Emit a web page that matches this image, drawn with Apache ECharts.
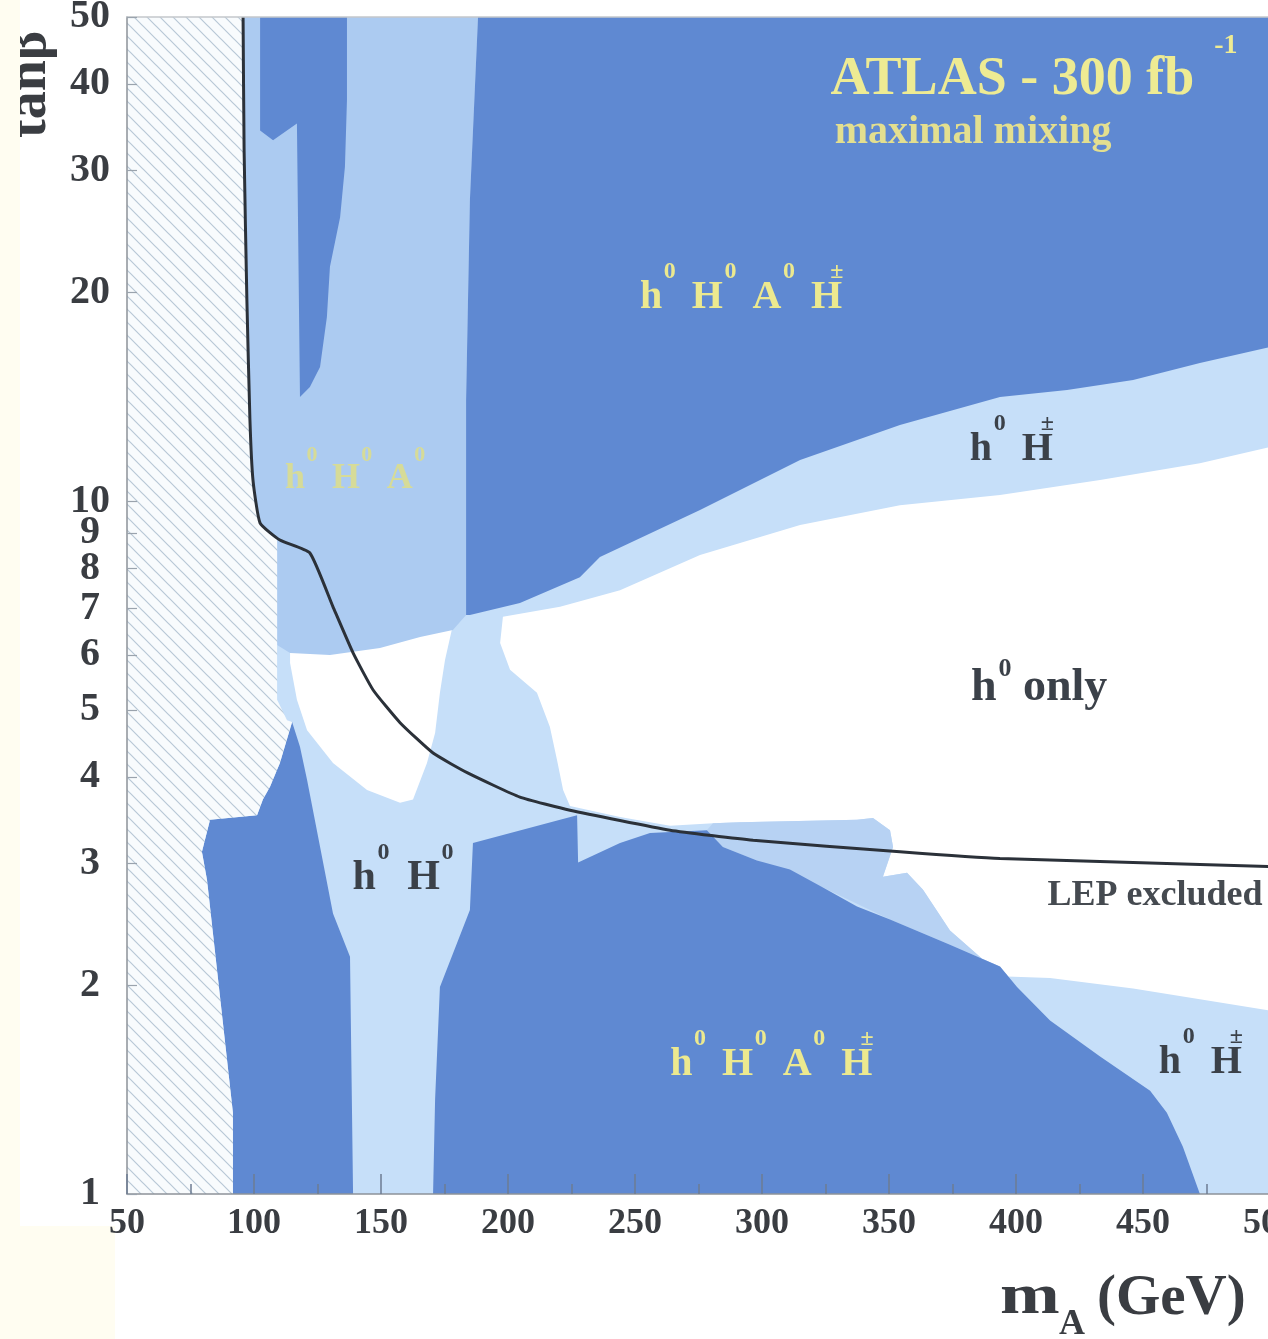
<!DOCTYPE html>
<html>
<head>
<meta charset="utf-8">
<title>ATLAS MSSM Higgs coverage, maximal mixing</title>
<script src="https://cdn.jsdelivr.net/npm/echarts@6/dist/echarts.min.js"></script>
<style>
  html, body { margin: 0; padding: 0; background: #ffffff; }
  #chart { width: 1268px; height: 1339px; }
</style>
</head>
<body>
<div id="chart"></div>
<script>
// ---- axis ticks ----
const xTickValues = [50, 100, 150, 200, 250, 300, 350, 400, 450, 500];
const yTickValues = [1, 2, 3, 4, 5, 6, 7, 8, 9, 10, 20, 30, 40, 50];

// ---- region outlines, points are [m_A (GeV), tan(beta)] ----
const fullPlane = [[50, 1], [500, 1], [500, 50], [50, 50]];

// LEP exclusion boundary
const lepBoundary = [[95.7, 50], [96.1, 32.1], [97.2, 19.5], [98.4, 13.1], [99.6, 10.73], [102.4, 9.30],
  [110.2, 8.79], [122.0, 8.42], [131.1, 7.04], [139.0, 6.04], [146.9, 5.34], [157.5, 4.79], [170.5, 4.33],
  [184.3, 4.05], [204.7, 3.74], [224.4, 3.58], [263.8, 3.35], [296.5, 3.24], [354.3, 3.12], [393.7, 3.05],
  [446.1, 3.01], [500, 2.97]];

// only h0 observable (large area right of centre)
const hOnlyMain = [[198.0, 6.81], [220.5, 7.04], [244.1, 7.44], [275.6, 8.36], [315.0, 9.24], [354.3, 9.87],
  [393.7, 10.21], [433.1, 10.73], [472.4, 11.35], [500, 11.97], [500, 1.84], [472.4, 1.91], [446.1, 1.98],
  [413.4, 2.05], [396.5, 2.06], [387.0, 2.18], [374.0, 2.40], [363.4, 2.75], [357.1, 2.91], [347.6, 2.87],
  [351.6, 3.17], [350.4, 3.35], [343.7, 3.49], [337.4, 3.47], [291.3, 3.44], [280.7, 3.43], [263.8, 3.40],
  [244.1, 3.50], [224.4, 3.63], [221.7, 3.83], [219.3, 4.23], [216.5, 4.72], [211.4, 5.29], [200.8, 5.71],
  [196.9, 6.24]];

// only h0 observable (pocket left of centre)
const hOnlyPocket = [[114.2, 6.20], [129.9, 6.18], [149.6, 6.31], [165.4, 6.52], [178.3, 6.63], [175.2, 5.90],
  [173.2, 5.29], [171.3, 4.63], [168.1, 4.19], [162.6, 3.71], [157.5, 3.67], [144.5, 3.83], [131.1, 4.19],
  [120.9, 4.67], [116.9, 5.17], [114.2, 5.84]];

// h0 H0 A0 region (upper left)
const hHA = [[95.7, 50], [188.2, 50], [185.0, 27.2], [183.5, 14.0], [183.5, 6.85], [178.3, 6.52], [165.4, 6.37],
  [149.6, 6.14], [129.9, 6.00], [114.2, 6.04], [109.1, 6.20], [109.1, 8.85], [102.4, 9.30], [99.6, 10.73],
  [98.4, 13.1], [97.2, 19.5], [96.1, 32.1]];

// strip along the lower four-boson region
const lowStrip = [[278.3, 3.35], [280.7, 3.43], [291.3, 3.44], [337.4, 3.47], [343.7, 3.49], [350.4, 3.35],
  [351.6, 3.17], [347.6, 2.87], [357.1, 2.91], [363.4, 2.75], [374.0, 2.40], [387.0, 2.18], [396.5, 2.06],
  [400.4, 1.99], [393.7, 2.13], [374.0, 2.29], [350.4, 2.49], [324.0, 2.77], [298.0, 3.03], [284.6, 3.17]];

// all four Higgs bosons observable
const allUpper = [[188.2, 50], [500, 50], [500, 16.7], [472.4, 15.83], [446.1, 14.96], [420.1, 14.47],
  [393.7, 14.14], [354.3, 12.88], [315.0, 11.47], [275.6, 9.71], [236.2, 8.31], [228.3, 7.77], [204.7, 7.13],
  [185.0, 6.85], [183.5, 6.85], [183.5, 14.0], [185.0, 27.2]];
const allSpike = [[102.4, 50], [136.6, 50], [136.6, 37.95], [135.8, 30.4], [133.9, 25.7], [129.9, 21.8],
  [128.7, 18.45], [126.0, 15.62], [122.0, 14.62], [118.1, 14.14], [116.9, 35.1], [107.5, 33.2], [102.4, 34.3]];
const allLowLeft = [[91.7, 1], [91.7, 1.31], [81.5, 2.84], [79.5, 3.12], [82.7, 3.47], [101.2, 3.52],
  [103.5, 3.71], [106.3, 3.87], [110.2, 4.19], [115.0, 4.80], [118.1, 4.42], [120.9, 3.96], [131.1, 2.54],
  [137.8, 2.20], [139.0, 1]];
const allLower = [[170.5, 1], [171.3, 1.37], [173.2, 1.99], [185.0, 2.57], [186.2, 3.21], [220.5, 3.47],
  [227.2, 3.52], [227.6, 3.01], [244.1, 3.21], [255.9, 3.32], [278.3, 3.35], [284.6, 3.17], [298.0, 3.03],
  [311.0, 2.94], [324.0, 2.77], [337.4, 2.60], [350.4, 2.49], [374.0, 2.29], [393.7, 2.13], [400.4, 1.99],
  [413.4, 1.78], [433.1, 1.58], [452.8, 1.41], [459.4, 1.31], [465.7, 1.17], [472.4, 1]];

// theoretically inaccessible area (hatched)
const excluded = [[50, 50], [95.7, 50], [96.1, 32.1], [97.2, 19.5], [98.4, 13.1], [99.6, 10.73], [102.4, 9.30],
  [109.1, 8.85], [109.1, 5.17], [113.0, 4.83], [115.0, 4.80], [110.2, 4.19], [106.3, 3.87], [103.5, 3.71],
  [101.2, 3.52], [82.7, 3.47], [79.5, 3.12], [81.5, 2.84], [91.7, 1.31], [91.7, 1], [50, 1]];

// ---- in-plot annotations: [centre m_A, baseline tan(beta)]; "^" starts a superscript ----
const annotations = [
  { at: [407.1, 38.32], text: 'ATLAS - 300 fb^-1', kind: 'title' },
  { at: [383.1, 32.67], text: 'maximal mixing', kind: 'mixing' },
  { at: [292.0, 18.88], text: 'h^0 H^0 A^0 H^±', kind: 'yellow' },
  { at: [139.8, 10.38], text: 'h^0 H^0 A^0', kind: 'faint' },
  { at: [398.4, 11.39], text: 'h^0 H^±', kind: 'dark' },
  { at: [409.1, 5.113], text: 'h^0 only', kind: 'only' },
  { at: [158.7, 2.729], text: 'h^0 H^0', kind: 'darkBig' },
  { at: [454.7, 2.596], text: 'LEP excluded', kind: 'lep' },
  { at: [303.9, 1.475], text: 'h^0 H^0 A^0 H^±', kind: 'yellow' },
  { at: [472.8, 1.485], text: 'h^0 H^±', kind: 'dark' }
];

const FONT = '"Liberation Serif", "DejaVu Serif", serif';
const COLORS = {
  all: '#5f89d2',
  hha: '#accbf1',
  strip: '#b7d2f3',
  light: '#c6dff9',
  white: '#ffffff',
  lep: '#2b3139',
  yellow: '#ece98f',
  text: '#3b4149',
  axis: '#8d9299'
};

// size: main font, sup: superscript font, raise: superscript baseline lift (x size),
// gap: space before superscript (x size), word: word spacing (x size)
const labelKinds = {
  title:   { size: 54, sup: 28, raise: 0.78, gap: 0.37, word: 0.25, color: '#eeeb93' },
  mixing:  { size: 40, sup: 20, raise: 0.7,  gap: 0.05, word: 0.25, color: '#e3df8f' },
  yellow:  { size: 40, sup: 24, raise: 0.76, gap: 0.04, word: 0.40, color: COLORS.yellow },
  faint:   { size: 36, sup: 22, raise: 0.76, gap: 0.04, word: 0.40, color: '#d6db98' },
  dark:    { size: 40, sup: 24, raise: 0.76, gap: 0.04, word: 0.40, color: COLORS.text },
  only:    { size: 46, sup: 26, raise: 0.55, gap: 0.04, word: 0.25, color: COLORS.text },
  darkBig: { size: 42, sup: 24, raise: 0.76, gap: 0.04, word: 0.42, color: COLORS.text },
  lep:     { size: 36, sup: 20, raise: 0.7,  gap: 0.05, word: 0.25, color: '#454a50' }
};

const measureCtx = document.createElement('canvas').getContext('2d');
function textWidth(str, size) {
  measureCtx.font = 'bold ' + size + 'px ' + FONT;
  return measureCtx.measureText(str).width;
}

function renderAnnotation(params, api) {
  const a = annotations[params.dataIndex];
  const k = labelKinds[a.kind];
  const p = api.coord([api.value(0), api.value(1)]);
  const pieces = [];
  let x = 0;
  a.text.split(' ').forEach(function (word, i) {
    if (i > 0) x += k.word * k.size;
    const parts = word.split('^');
    if (parts[0]) {
      pieces.push({ text: parts[0], x: x, sup: false });
      x += textWidth(parts[0], k.size);
    }
    if (parts[1]) {
      const overlap = parts[1] === '±' ? -0.3 * k.size : k.gap * k.size;
      pieces.push({ text: parts[1], x: x + overlap, sup: true });
      x = Math.max(x, x + overlap + textWidth(parts[1], k.sup));
    }
  });
  const left = p[0] - x / 2;
  return {
    type: 'group',
    children: pieces.map(function (pc) {
      const size = pc.sup ? k.sup : k.size;
      const baseline = pc.sup ? p[1] - k.raise * k.size : p[1];
      return {
        type: 'text',
        x: left + pc.x,
        y: baseline - 0.32 * size,
        style: { text: pc.text, fontFamily: FONT, fontWeight: 'bold', fontSize: size,
                 fill: k.color, align: 'left', verticalAlign: 'middle' }
      };
    })
  };
}

function makeHatch() {
  const s = 13;
  const c = document.createElement('canvas');
  c.width = s; c.height = s;
  const g = c.getContext('2d');
  g.fillStyle = '#f8fbfd';
  g.fillRect(0, 0, s, s);
  g.strokeStyle = '#b8c8d6';
  g.lineWidth = 1.2;
  g.beginPath();
  for (const k of [-1, 0, 1]) {
    g.moveTo(-1, -1 + k * s);
    g.lineTo(s + 1, s + 1 + k * s);
  }
  g.stroke();
  return c;
}

function region(name, points, fill, z) {
  return {
    type: 'custom',
    name: name,
    silent: true,
    z: z,
    clip: true,
    data: [[100, 10]],
    renderItem: function (params, api) {
      return {
        type: 'polygon',
        shape: { points: points.map(function (p) { return api.coord(p); }) },
        style: { fill: fill, stroke: null }
      };
    }
  };
}

const chart = echarts.init(document.getElementById('chart'), null, { renderer: 'canvas' });
const hatch = makeHatch();

const tickLine = { color: '#6d7c92', width: 1.5 };
const xLabelStyle = { fontFamily: FONT, fontWeight: 'bold', fontSize: 36, color: '#3a3d42' };
const yLabelStyle = { fontFamily: FONT, fontWeight: 'bold', fontSize: 40, color: '#3a3d42' };
const titleStyle = { fontFamily: FONT, fontWeight: 'bold', fill: '#3a3d42', align: 'left', verticalAlign: 'middle' };

chart.setOption({
  animation: false,
  backgroundColor: '#ffffff',
  grid: { left: 127, top: 17, width: 1143, height: 1177, containLabel: false, outerBoundsMode: 'none' },
  xAxis: [{
    type: 'value', min: 50, max: 500, interval: 50, z: 10,
    axisLine: { show: true, onZero: false, lineStyle: { color: COLORS.axis, width: 1.5 } },
    axisTick: { show: true, inside: true, length: 20, lineStyle: tickLine },
    minorTick: { show: true, splitNumber: 2, length: 10, lineStyle: tickLine },
    splitLine: { show: false },
    axisLabel: Object.assign({ margin: 12, customValues: xTickValues }, xLabelStyle)
  }, {
    type: 'value', min: 50, max: 500, position: 'top', z: 10,
    axisLine: { show: true, onZero: false, lineStyle: { color: '#c4c7cc', width: 1.5 } },
    axisTick: { show: false }, axisLabel: { show: false }, splitLine: { show: false }
  }],
  yAxis: [{
    type: 'log', logBase: 10, min: 1, max: 50, z: 10,
    axisLine: { show: true, onZero: false, lineStyle: { color: COLORS.axis, width: 1.5 } },
    axisTick: { show: true, inside: true, length: 10, customValues: yTickValues, lineStyle: { color: '#9aa3ad', width: 1.2 } },
    minorTick: { show: false },
    splitLine: { show: false },
    axisLabel: Object.assign({ margin: 37, align: 'center', customValues: yTickValues }, yLabelStyle)
  }],
  series: [
    region('base', fullPlane, COLORS.light, 1),
    region('h only', hOnlyMain, COLORS.white, 2),
    region('h only pocket', hOnlyPocket, COLORS.white, 2),
    region('h H A', hHA, COLORS.hha, 3),
    region('strip', lowStrip, COLORS.strip, 3),
    region('all upper', allUpper, COLORS.all, 4),
    region('all spike', allSpike, COLORS.all, 4),
    region('all lower left', allLowLeft, COLORS.all, 4),
    region('all lower', allLower, COLORS.all, 4),
    region('excluded', excluded, { image: hatch, repeat: 'repeat' }, 5),
    {
      type: 'line', name: 'LEP excluded', z: 6, silent: true,
      data: lepBoundary, showSymbol: false, symbol: 'none', smooth: 0.15,
      lineStyle: { color: COLORS.lep, width: 3 }
    },
    {
      type: 'custom', name: 'annotations', z: 7, silent: true,
      data: annotations.map(function (a) { return a.at; }),
      encode: { x: 0, y: 1 },
      renderItem: renderAnnotation
    }
  ],
  graphic: [
    { type: 'text', x: 31, y: 138, rotation: Math.PI / 2, z: 1,
      style: Object.assign({ text: 'tanβ', fontSize: 56 }, titleStyle) },
    { type: 'rect', z: 2, shape: { x: 0, y: 0, width: 20, height: 1339 }, style: { fill: '#fffdf1' } },
    { type: 'rect', z: 2, shape: { x: 0, y: 1226, width: 115, height: 113 }, style: { fill: '#fffdf1' } },
    { type: 'text', x: 1000, y: 1299, z: 1, scaleX: 1.28,
      style: Object.assign({ text: 'm', fontSize: 56 }, titleStyle) },
    { type: 'text', x: 1059, y: 1325, z: 1,
      style: Object.assign({ text: 'A', fontSize: 36 }, titleStyle) },
    { type: 'text', x: 1097, y: 1299, z: 1,
      style: Object.assign({ text: '(GeV)', fontSize: 57 }, titleStyle) }
  ]
});
</script>
</body>
</html>
